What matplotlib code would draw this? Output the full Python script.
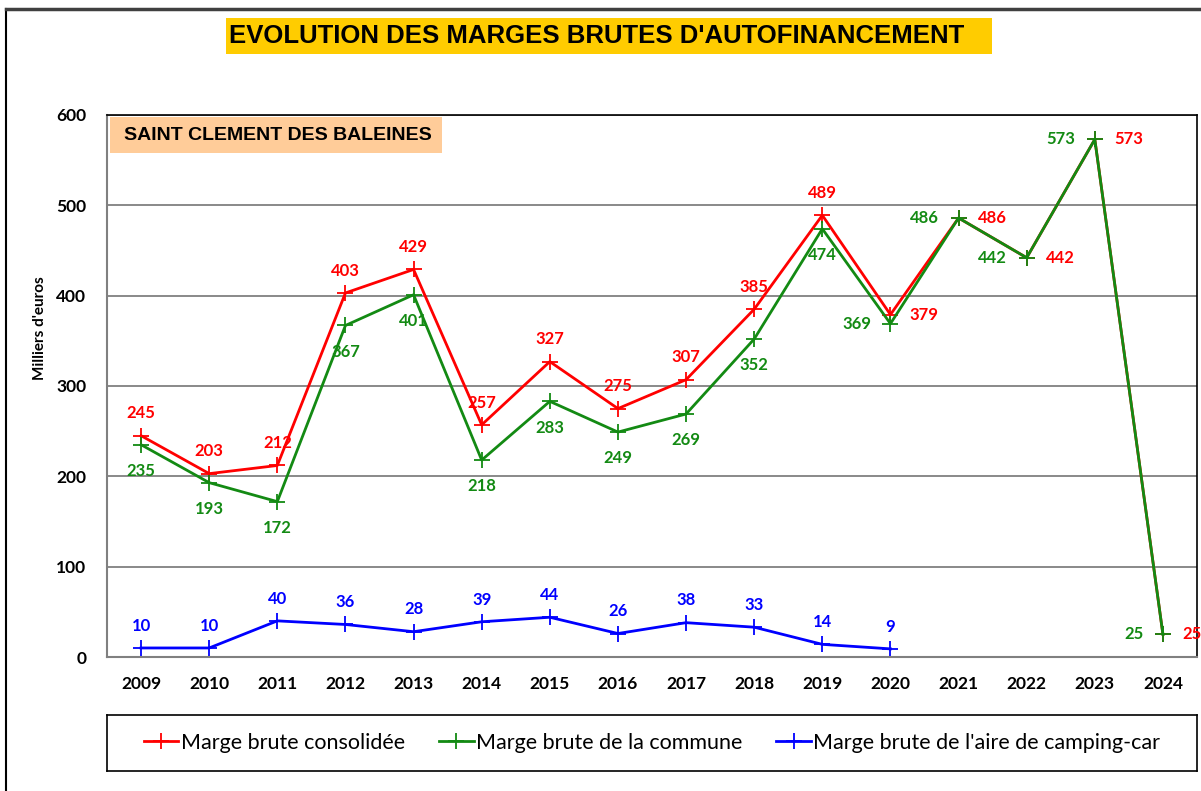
import matplotlib
matplotlib.use("Agg")
import matplotlib.pyplot as plt
from matplotlib.patches import Rectangle
from matplotlib.lines import Line2D

years = [2009, 2010, 2011, 2012, 2013, 2014, 2015, 2016, 2017, 2018, 2019, 2020, 2021, 2022, 2023, 2024]
consolidee = [245, 203, 212, 403, 429, 257, 327, 275, 307, 385, 489, 379, 486, 442, 573, 25]
commune = [235, 193, 172, 367, 401, 218, 283, 249, 269, 352, 474, 369, 486, 442, 573, 25]
camping = [10, 10, 40, 36, 28, 39, 44, 26, 38, 33, 14, 9]
yticks = [0, 100, 200, 300, 400, 500, 600]

title = "EVOLUTION DES MARGES BRUTES D'AUTOFINANCEMENT"
subtitle = "SAINT CLEMENT DES BALEINES"
ylabel = "Milliers d'euros"
labels = ["Marge brute consolidée", "Marge brute de la commune", "Marge brute de l'aire de camping-car"]

RED = "#FF0000"
GREEN = "#138A13"
BLUE = "#0000FF"

W, H = 1201, 791
fig = plt.figure(figsize=(W / 100, H / 100), dpi=100)

def fx(px):
    return px / W

def fy(py):
    return 1 - py / H

# outer border
fig.add_artist(Line2D([fx(6), fx(6)], [fy(9), 0], transform=fig.transFigure, color="black", lw=1.5))
fig.add_artist(Line2D([fx(6), 1], [fy(9), fy(9)], transform=fig.transFigure, color="#404040", lw=2.5))

# title box
fig.add_artist(Rectangle((fx(226), fy(54)), fx(992 - 226), (54 - 18) / H, transform=fig.transFigure,
                         facecolor="#FFCC00", edgecolor="none"))
fig.text(fx(597), fy(36), title, ha="center", va="center", fontsize=18.5, fontweight="bold",
         family="Liberation Sans", color="black")

ax = fig.add_axes([fx(107), fy(657), fx(1197 - 107), (657 - 115) / H])
x = list(range(len(years)))
ax.set_xlim(-0.5, len(years) - 0.5)
ax.set_ylim(0, 600)
ax.set_yticks(yticks)
ax.set_xticks(x)
ax.set_xticklabels([str(y) for y in years])
ax.tick_params(axis="both", length=0, labelsize=12.5)
ax.tick_params(axis="x", pad=14)
ax.tick_params(axis="y", pad=15)
for lab in ax.get_xticklabels() + ax.get_yticklabels():
    lab.set_fontweight("bold")
    lab.set_family("Lato")
ax.yaxis.grid(True, color="#808080", lw=1.3)
ax.set_axisbelow(True)
for s in ["left", "bottom"]:
    ax.spines[s].set_color("#808080")
    ax.spines[s].set_linewidth(1.5)
for s in ["top", "right"]:
    ax.spines[s].set_color("black")
    ax.spines[s].set_linewidth(1.2)

fig.text(fx(40), fy(328), ylabel, rotation=90, ha="center", va="center", family="Lato",
         fontsize=11, fontweight="bold")

kw = dict(marker="+", markersize=11, markeredgewidth=1.3, lw=2)
ax.plot(x, consolidee, color=RED, label=labels[0], **kw)
ax.plot(x, commune, color=GREEN, label=labels[1], **kw)
ax.plot(x[:len(camping)], camping, color=BLUE, label=labels[2], **kw)

lab_kw = dict(fontsize=12, fontweight="bold", family="Lato")
for i, v in enumerate(consolidee):
    if i >= 11:
        ax.annotate(str(v), (i, v), xytext=(14, 0), textcoords="offset points", ha="left", va="center",
                    color=RED, **lab_kw)
    else:
        ax.annotate(str(v), (i, v), xytext=(0, 16), textcoords="offset points", ha="center", va="center",
                    color=RED, **lab_kw)
for i, v in enumerate(commune):
    if i >= 11:
        ax.annotate(str(v), (i, v), xytext=(-14, 0), textcoords="offset points", ha="right", va="center",
                    color=GREEN, **lab_kw)
    else:
        ax.annotate(str(v), (i, v), xytext=(0, -19), textcoords="offset points", ha="center", va="center",
                    color=GREEN, **lab_kw)
for i, v in enumerate(camping):
    ax.annotate(str(v), (i, v), xytext=(0, 16), textcoords="offset points", ha="center", va="center",
                color=BLUE, **lab_kw)

# subtitle box
fig.add_artist(Rectangle((fx(110), fy(153)), fx(442 - 110), (153 - 117) / H, transform=fig.transFigure,
                         facecolor="#FFCC99", edgecolor="none", zorder=5))
fig.text(fx(278), fy(136), subtitle, ha="center", va="center", fontsize=14, fontweight="bold",
         family="Liberation Sans", color="black", zorder=6)

# legend
leg_ax = fig.add_axes([fx(107), fy(771), fx(1197 - 107), (771 - 715) / H])
leg_ax.set_xticks([])
leg_ax.set_yticks([])
for s in leg_ax.spines.values():
    s.set_color("black")
    s.set_linewidth(1.2)
handles = [Line2D([], [], color=c, marker="+", markersize=11, markeredgewidth=1.3, lw=2)
           for c in (RED, GREEN, BLUE)]
leg_ax.legend(handles, labels, loc="center", ncol=3, frameon=False, prop={"family": "Lato", "size": 15.5},
              handlelength=1.6, handletextpad=0.1, columnspacing=1.6)

fig.savefig("out.png", dpi=100)
